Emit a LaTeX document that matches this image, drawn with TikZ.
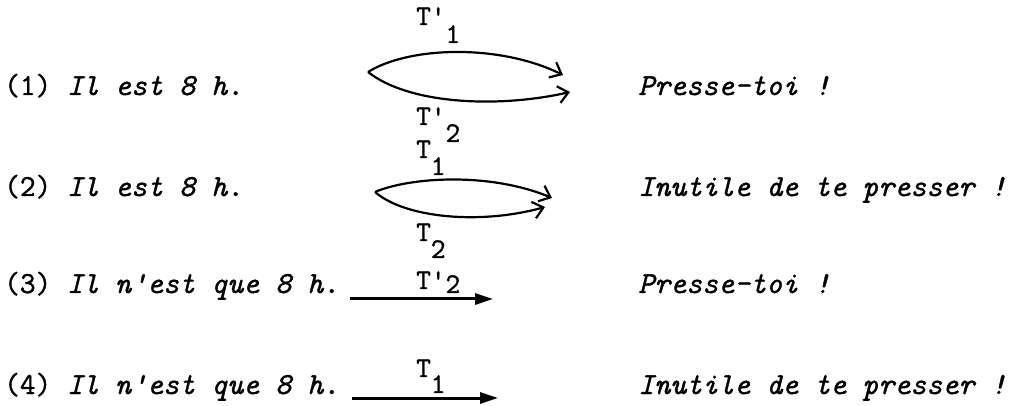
\documentclass[tikz,border=0pt]{standalone}
\usepackage{fontspec}
\setmonofont{Latin Modern Mono}[FakeBold=1.2]
\usetikzlibrary{arrows.meta}

\begin{document}
\begin{tikzpicture}[x=1pt,y=-1pt,font=\ttfamily\fontsize{30.5}{34}\selectfont,
 txt/.style={anchor=base west,inner sep=0pt},
 lab/.style={anchor=base west,inner sep=0pt,font=\ttfamily\fontsize{28.5}{32}\selectfont},
 bow/.style={line width=2.2pt,-{Straight Barb[length=10pt,width=17pt,line width=2.2pt]}},
 bar/.style={line width=3pt,-{Triangle[length=18pt,width=11pt]}}]
\useasboundingbox (0,0) rectangle (1013,406);
\foreach \n/\y/\s/\r in {1/95/Il est 8 h./Presse-toi !,2/196/Il est 8 h./Inutile de te presser !,3/293/Il n'est que 8 h./Presse-toi !,4/394/Il n'est que 8 h./Inutile de te presser !}{
 \node[txt] (s\n) at (4,\y) {(\n) \textit{\s}};
 \node[txt] (r\n) at (638,\y) {\textit{\r}};
}
% deux chemins (1) et (2)
\coordinate (o1) at (368,72);
\coordinate (e1a) at (563,75);
\coordinate (e1b) at (570,92);
\draw[bow] (o1) .. controls (410,46) and (500,44) .. (e1a);
\draw[bow] (o1) .. controls (410,105) and (500,108) .. (e1b);
\coordinate (o2) at (375,192);
\coordinate (e2a) at (552,198);
\coordinate (e2b) at (545,207);
\draw[bow] (o2) .. controls (410,177) and (490,172) .. (e2a);
\draw[bow] (o2) .. controls (405,218) and (480,225) .. (e2b);
% un seul chemin (3) et (4)
\coordinate (a3) at (350,299);
\coordinate (b3) at (493,299);
\draw[bar] (a3) -- (b3);
\coordinate (a4) at (352,398);
\coordinate (b4) at (498,398);
\draw[bar] (a4) -- (b4);
\node[lab] (tp1) at (416,25) {T'\raisebox{-18pt}{1}};
\node[lab] (tp2) at (416,125) {T'\raisebox{-17pt}{2}};
\node[lab] (tt1) at (416,158) {T\raisebox{-17pt}{1}};
\node[lab] (tt2) at (416,241) {T\raisebox{-17pt}{2}};
\node[lab] (tq2) at (416,289) {T'\raisebox{-4pt}{2}};
\node[lab] (tq1) at (416,377) {T\raisebox{-16pt}{1}};
\end{tikzpicture}
\end{document}
